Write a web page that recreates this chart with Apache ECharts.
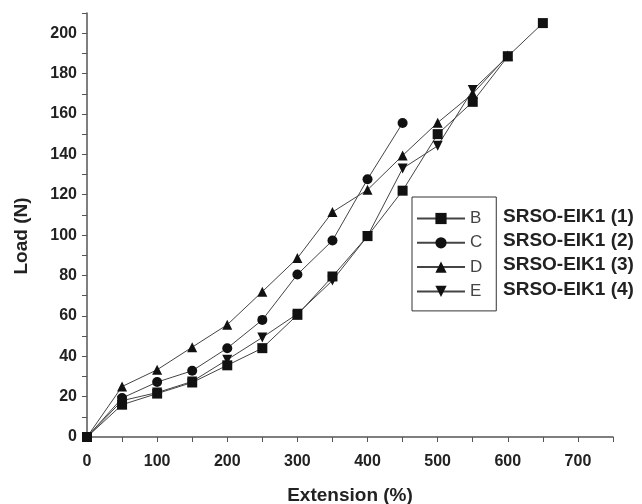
<!DOCTYPE html>
<html>
<head>
<meta charset="utf-8">
<script src="https://cdn.jsdelivr.net/npm/echarts@6/dist/echarts.min.js"></script>
<style>
  html, body { margin: 0; padding: 0; background: #fff; }
  #chart { width: 642px; height: 504px; }
</style>
</head>
<body>
<div id="chart"></div>
<script>
// extension (%) at each measured point
const extB = [0, 50, 100, 150, 200, 250, 300, 350, 400, 450, 500, 550, 600, 650];
const loadB = [0, 16, 21.5, 27, 35.5, 44, 60.5, 79.5, 99.5, 122, 150, 166, 188.5, 205];

const extC = [0, 50, 100, 150, 200, 250, 300, 350, 400, 450];
const loadC = [0, 19.3, 27.2, 32.8, 44, 58, 80.5, 97.3, 127.7, 155.5];

const extD = [0, 50, 100, 150, 200, 250, 300, 350, 400, 450, 500, 550, 600];
const loadD = [0, 25, 33.3, 44.5, 55.6, 72, 88.6, 111.4, 122.4, 139.4, 155.7, 170, 189];

const extE = [0, 50, 100, 150, 200, 250, 300, 350, 400, 450, 500, 550, 600];
const loadE = [0, 18, 22, 27.5, 38.3, 49.3, 61, 77.5, 99.5, 133, 144.2, 171.9, 188.5];

const legendNames = ['B', 'C', 'D', 'E'];
const sampleNames = ['SRSO-EIK1 (1)', 'SRSO-EIK1 (2)', 'SRSO-EIK1 (3)', 'SRSO-EIK1 (4)'];

const font = 'Arial, "Liberation Sans", sans-serif';
const downTri = 'path://M0,0 L10,0 L5,9 Z';

const pairs = (xs, ys) => xs.map((x, i) => [x, ys[i]]);

const mkSeries = (name, data, symbol) => ({
  name: name,
  type: 'line',
  data: data,
  symbol: symbol,
  symbolSize: 10,
  showAllSymbol: true,
  lineStyle: { color: '#444', width: 1 },
  itemStyle: { color: '#111' },
  animation: false
});

const chart = echarts.init(document.getElementById('chart'));
chart.setOption({
  backgroundColor: '#fff',
  grid: { left: 87, right: 29, top: 13, bottom: 67, outerBoundsMode: 'none', containLabel: false },
  xAxis: {
    type: 'value',
    min: 0,
    max: 750,
    interval: 100,
    name: 'Extension (%)',
    nameLocation: 'middle',
    nameGap: 49,
    nameTextStyle: { fontFamily: font, fontWeight: 'bold', fontSize: 19, color: '#222' },
    axisLine: { lineStyle: { color: '#555', width: 1.5 } },
    axisTick: { show: true, length: 5, inside: false, lineStyle: { color: '#555' } },
    minorTick: { show: true, splitNumber: 2, length: 5, lineStyle: { color: '#555' } },
    axisLabel: { fontFamily: font, fontWeight: 'bold', fontSize: 16, color: '#222', margin: 17, showMaxLabel: false },
    splitLine: { show: false }
  },
  yAxis: {
    type: 'value',
    min: 0,
    max: 210,
    interval: 20,
    name: 'Load (N)',
    nameLocation: 'middle',
    nameGap: 56,
    nameTextStyle: { fontFamily: font, fontWeight: 'bold', fontSize: 19, color: '#222', padding: [0, 22, 0, 0] },
    axisLine: { show: true, lineStyle: { color: '#555', width: 1.5 } },
    axisTick: { show: true, length: 5, inside: false, lineStyle: { color: '#555' } },
    minorTick: { show: true, splitNumber: 2, length: 5, lineStyle: { color: '#555' } },
    axisLabel: { fontFamily: font, fontWeight: 'bold', fontSize: 16, color: '#222', margin: 10, showMaxLabel: false },
    splitLine: { show: false }
  },
  legend: {
    data: legendNames,
    orient: 'vertical',
    left: 412,
    top: 197,
    borderColor: '#333',
    borderWidth: 1,
    padding: [13, 14, 11, 4],
    itemWidth: 48,
    itemHeight: 14,
    itemGap: 7.3,
    textStyle: { fontFamily: font, fontSize: 17, color: '#444' }
  },
  graphic: sampleNames.map((t, i) => ({
    type: 'text',
    left: 503,
    top: [217, 241, 265, 290][i] - 10,
    style: { text: t, font: 'bold 19px ' + font, fill: '#222' }
  })),
  series: [
    mkSeries('B', pairs(extB, loadB), 'rect'),
    mkSeries('C', pairs(extC, loadC), 'circle'),
    mkSeries('D', pairs(extD, loadD), 'triangle'),
    mkSeries('E', pairs(extE, loadE), downTri)
  ]
});
</script>
</body>
</html>
